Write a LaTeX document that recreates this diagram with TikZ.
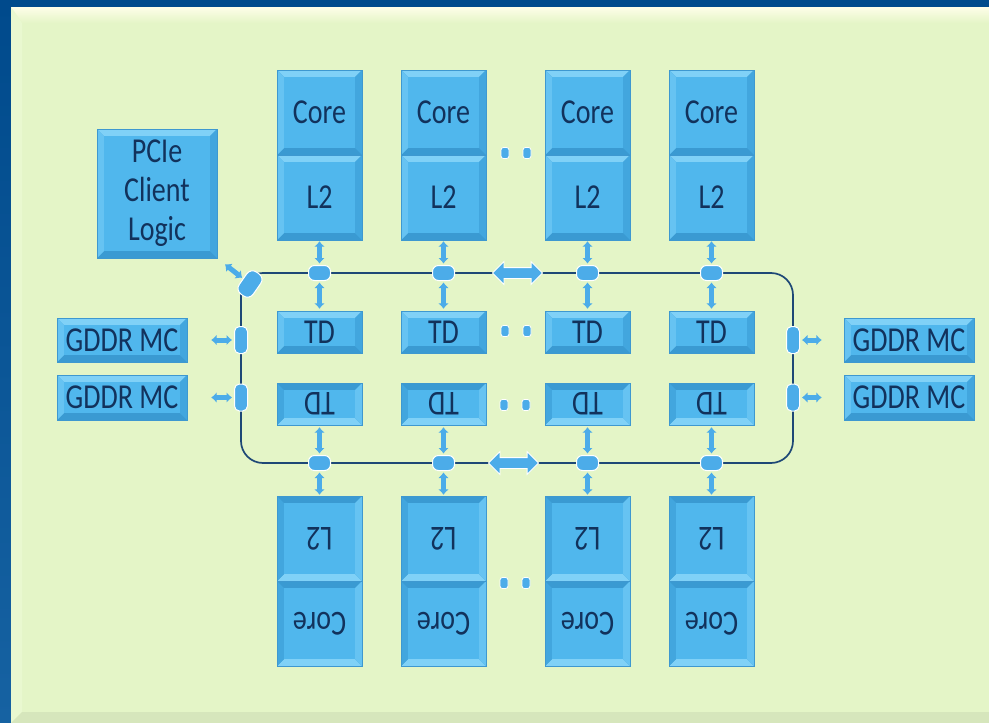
\documentclass[tikz,border=0pt]{standalone}
\usepackage{fontspec}
\setmainfont{Carlito}
\usetikzlibrary{arrows.meta,shapes.arrows}

\definecolor{bgblue}{RGB}{0,74,140}
\definecolor{bgblue2}{RGB}{22,98,162}
\definecolor{panel}{RGB}{228,245,199}
\definecolor{panelhi}{RGB}{254,253,232}
\definecolor{panelleft}{RGB}{233,248,208}
\definecolor{panellow}{RGB}{214,230,188}
\definecolor{bvface}{RGB}{80,183,237}
\definecolor{bvtop}{RGB}{128,209,247}
\definecolor{bvleft}{RGB}{102,195,242}
\definecolor{bvright}{RGB}{66,166,222}
\definecolor{bvbot}{RGB}{58,154,210}
\definecolor{bvline}{RGB}{62,152,208}
\definecolor{txtc}{RGB}{18,50,92}
\definecolor{ringc}{RGB}{30,72,118}
\definecolor{blobc}{RGB}{76,172,233}

\newcommand\lbl[1]{\scalebox{0.8}[1]{#1}}
\newcommand\bvd{7}

\tikzset{
  boxlabel/.style={inner sep=0pt, align=center, text=txtc,
    font=\fontsize{35}{39}\selectfont},
  ring/.style={draw=ringc, line width=1.7pt, rounded corners=22pt},
  blob/.style={fill=blobc, draw=white, line width=1pt, inner sep=0pt, rounded corners=5pt},
  ringblob/.style={blob, minimum width=22pt, minimum height=15pt, rounded corners=6pt},
  sideblob/.style={blob, minimum width=13pt, minimum height=27pt},
  dotc/.style={fill=blobc, draw=white, line width=0.8pt, inner sep=0pt,
    rounded corners=2.5pt, minimum width=8pt, minimum height=11pt},
  arrowtips/.style={arrows={Latex[length=5.5pt,width=11pt]-Latex[length=5.5pt,width=11pt]}},
  varrow/.style={arrowtips, line width=5pt, draw=blobc},
  sarrow/.style={arrowtips, line width=5pt, draw=blobc},
  bigarrow/.style={double arrow, fill=blobc, draw=white, line width=0.8pt,
    inner xsep=0pt, inner ysep=5pt, minimum height=50pt,
    double arrow head extend=6pt},
}

% bevelled box: name, x1, y1, x2, y2, label, label rotation
\newcommand\bevbox[7]{%
  \fill[bvbot] (#2,#3) rectangle (#4,#5);
  \fill[bvtop] (#2,#3) -- (#4,#3) -- ({#4-\bvd},{#3+\bvd}) -- ({#2+\bvd},{#3+\bvd}) -- cycle;
  \fill[bvleft] (#2,#3) -- ({#2+\bvd},{#3+\bvd}) -- ({#2+\bvd},{#5-\bvd}) -- (#2,#5) -- cycle;
  \fill[bvright] (#4,#3) -- ({#4-\bvd},{#3+\bvd}) -- ({#4-\bvd},{#5-\bvd}) -- (#4,#5) -- cycle;
  \fill[bvface] ({#2+\bvd},{#3+\bvd}) rectangle ({#4-\bvd},{#5-\bvd});
  \draw[bvline, line width=0.6pt] (#2,#3) rectangle (#4,#5);
  \node[boxlabel, rotate=#7, minimum width={#4-(#2)}, minimum height={#5-(#3)}]
    (#1) at ({(#2+#4)/2},{(#3+#5)/2}) {#6};
}

% one half of the ring: core columns, tag directories, ring stops
\newcommand\halfdiagram[2]{%
  \foreach \xl [count=\i] in {277,401,545,669}{
    \bevbox{#1core\i}{\xl}{70}{\xl+85}{155}{\lbl{Core}}{#2}
    \bevbox{#1l2\i}{\xl}{155}{\xl+85}{240}{\lbl{L2}}{#2}
    \bevbox{#1td\i}{\xl}{311}{\xl+85}{353}{\lbl{TD}}{#2}
    \node[ringblob, rotate=#2] (#1r\i) at (\xl+42.5,273) {};
    \draw[varrow, shorten <=1pt, shorten >=1.5pt] (#1l2\i.south) -- (#1r\i.north);
    \draw[varrow, shorten <=1.5pt, shorten >=2pt] (#1r\i.south) -- (#1td\i.north);
  }
  \node[bigarrow] (#1ha) at (517.5,273) {};
  \node[dotc] (#1da) at (505,153) {};
  \node[dotc] (#1db) at (527,153) {};
  \node[dotc] (#1dc) at (505,331) {};
  \node[dotc] (#1dd) at (527,331) {};
}

\begin{document}
\begin{tikzpicture}[x=1pt,y=-1pt]
\useasboundingbox (0,0) rectangle (989,723);

% backdrop and panel
\fill[bgblue] (0,0) rectangle (989,723);
\shade[top color=bgblue, bottom color=bgblue2] (0,0) rectangle (11,723);
\fill[panel] (11,7) rectangle (989,723);
\shade[top color=panelhi, bottom color=panel] (11,7) -- (989,7) -- (989,23) -- (22,23) -- cycle;
\fill[panelleft] (11,7) -- (22,23) -- (22,712) -- (11,723) -- cycle;
\fill[panellow] (11,723) -- (22,712) -- (989,712) -- (989,723) -- cycle;

% ring interconnect
\draw[ring] (241,273) rectangle (793,463);

% upper and lower halves
\halfdiagram{t}{0}
\begin{scope}[rotate around={180:(515.5,368)}]
  \halfdiagram{b}{180}
\end{scope}

% PCIe client logic and its ring stop
\bevbox{pcie}{97}{129}{217}{258}{\lbl{PCIe}\\\lbl{Client}\\\lbl{Logic}}{0}
\node[blob, rotate=55, minimum width=27pt, minimum height=17pt, rounded corners=7pt] (pcb) at (250,284) {};
\draw[sarrow, shorten <=1pt, shorten >=10pt] (pcb) -- (pcie.south east);

% memory controllers
\bevbox{gl1}{57}{318}{187}{362}{\lbl{GDDR MC}}{0}
\bevbox{gl2}{57}{375}{187}{420}{\lbl{GDDR MC}}{0}
\bevbox{gr1}{844}{318}{974}{362}{\lbl{GDDR MC}}{0}
\bevbox{gr2}{844}{375}{974}{420}{\lbl{GDDR MC}}{0}

\node[sideblob] (sl1) at (241,340) {};
\node[sideblob] (sl2) at (241,397.5) {};
\node[sideblob] (sr1) at (793,340) {};
\node[sideblob] (sr2) at (793,397.5) {};
\draw[sarrow, shorten <=2pt, shorten >=24pt] (sl1) -- (gl1);
\draw[sarrow, shorten <=2pt, shorten >=24pt] (sl2) -- (gl2);
\draw[sarrow, shorten <=2pt, shorten >=22pt] (sr1) -- (gr1);
\draw[sarrow, shorten <=2pt, shorten >=22pt] (sr2) -- (gr2);
\end{tikzpicture}
\end{document}
